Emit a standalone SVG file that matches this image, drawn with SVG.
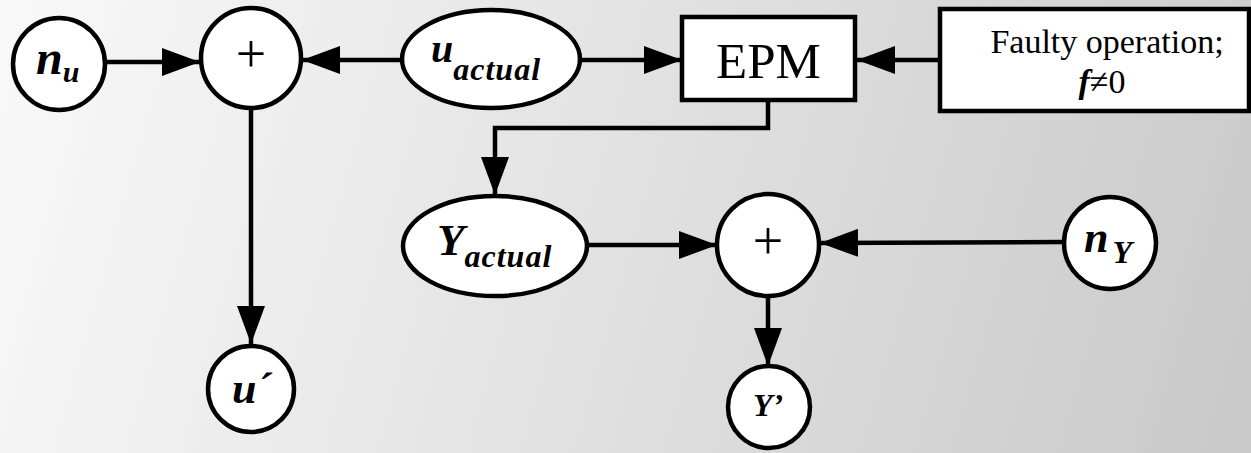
<svg xmlns="http://www.w3.org/2000/svg" width="1251" height="453" viewBox="0 0 1251 453">
<defs>
<linearGradient id="bg" gradientUnits="userSpaceOnUse" x1="0" y1="100" x2="1251" y2="453">
<stop offset="0" stop-color="#f8f8f8"/>
<stop offset="1" stop-color="#c9c9c9"/>
</linearGradient>
<marker id="ah" viewBox="0 0 38 28" refX="38" refY="14" markerWidth="38" markerHeight="28" markerUnits="userSpaceOnUse" orient="auto">
<path d="M0,0 L38,14 L0,28 Z" fill="#000"/>
</marker>
<style>
.n{fill:#fff;stroke:#000;stroke-width:4.5}
.c{fill:none;stroke:#000;stroke-width:4.5}
text{font-family:'Liberation Serif','Times New Roman',serif;fill:#000}
.v{font-weight:bold;font-style:italic}
</style>
</defs>
<rect width="1251" height="453" fill="url(#bg)"/>
<g id="connectors">
<line class="c" x1="106" y1="62" x2="200" y2="62" marker-end="url(#ah)"/>
<line class="c" x1="402" y1="60" x2="302" y2="60" marker-end="url(#ah)"/>
<line class="c" x1="580" y1="60" x2="682" y2="60" marker-end="url(#ah)"/>
<line class="c" x1="940" y1="60" x2="857" y2="60" marker-end="url(#ah)"/>
<polyline class="c" points="768,100 768,128 495,128 495,195" marker-end="url(#ah)"/>
<line class="c" x1="251" y1="108" x2="251" y2="344" marker-end="url(#ah)"/>
<line class="c" x1="588" y1="245" x2="717" y2="245" marker-end="url(#ah)"/>
<line class="c" x1="1063" y1="242" x2="820" y2="243" marker-end="url(#ah)"/>
<line class="c" x1="768" y1="297" x2="768" y2="366" marker-end="url(#ah)"/>
</g>
<g id="n_u">
<circle class="n" cx="59" cy="64" r="46"/>
<text class="v" x="36" y="74" style="font-size:48px">n<tspan style="font-size:30px" dy="8">u</tspan></text>
</g>
<g id="sum1">
<circle class="n" cx="251" cy="58" r="50"/>
<text x="251" y="72" style="font-size:54px" text-anchor="middle">+</text>
</g>
<g id="u_actual">
<ellipse class="n" cx="491" cy="59" rx="89" ry="49"/>
<text class="v" x="431" y="62" style="font-size:40px">u<tspan style="font-size:32px;letter-spacing:1px" dy="18">actual</tspan></text>
</g>
<g id="EPM">
<rect class="n" x="682" y="17" width="173" height="83"/>
<text x="768.5" y="78" style="font-size:51px" text-anchor="middle">EPM</text>
</g>
<g id="faulty">
<rect class="n" x="940" y="9" width="309" height="102"/>
<text x="1107" y="53" style="font-size:34px" text-anchor="middle">Faulty operation;</text>
<text x="1102" y="93" style="font-size:34px" text-anchor="middle"><tspan class="v">f</tspan>≠0</text>
</g>
<g id="Y_actual">
<ellipse class="n" cx="495" cy="246" rx="92" ry="50"/>
<text class="v" x="437" y="255" style="font-size:45px">Y<tspan style="font-size:32px;letter-spacing:1px" dy="12">actual</tspan></text>
</g>
<g id="sum2">
<circle class="n" cx="768" cy="245" r="51"/>
<text x="768" y="259" style="font-size:54px" text-anchor="middle">+</text>
</g>
<g id="n_Y">
<circle class="n" cx="1110" cy="243" r="46"/>
<text class="v" x="1084" y="252" style="font-size:44px">n<tspan style="font-size:32px" dx="4" dy="11">Y</tspan></text>
</g>
<g id="u_prime">
<circle class="n" cx="251" cy="389" r="43"/>
<text class="v" x="232" y="403" style="font-size:44px">u´</text>
</g>
<g id="Y_prime">
<circle class="n" cx="769" cy="407" r="41"/>
<text class="v" x="753" y="416" style="font-size:32px">Y’</text>
</g>
</svg>
